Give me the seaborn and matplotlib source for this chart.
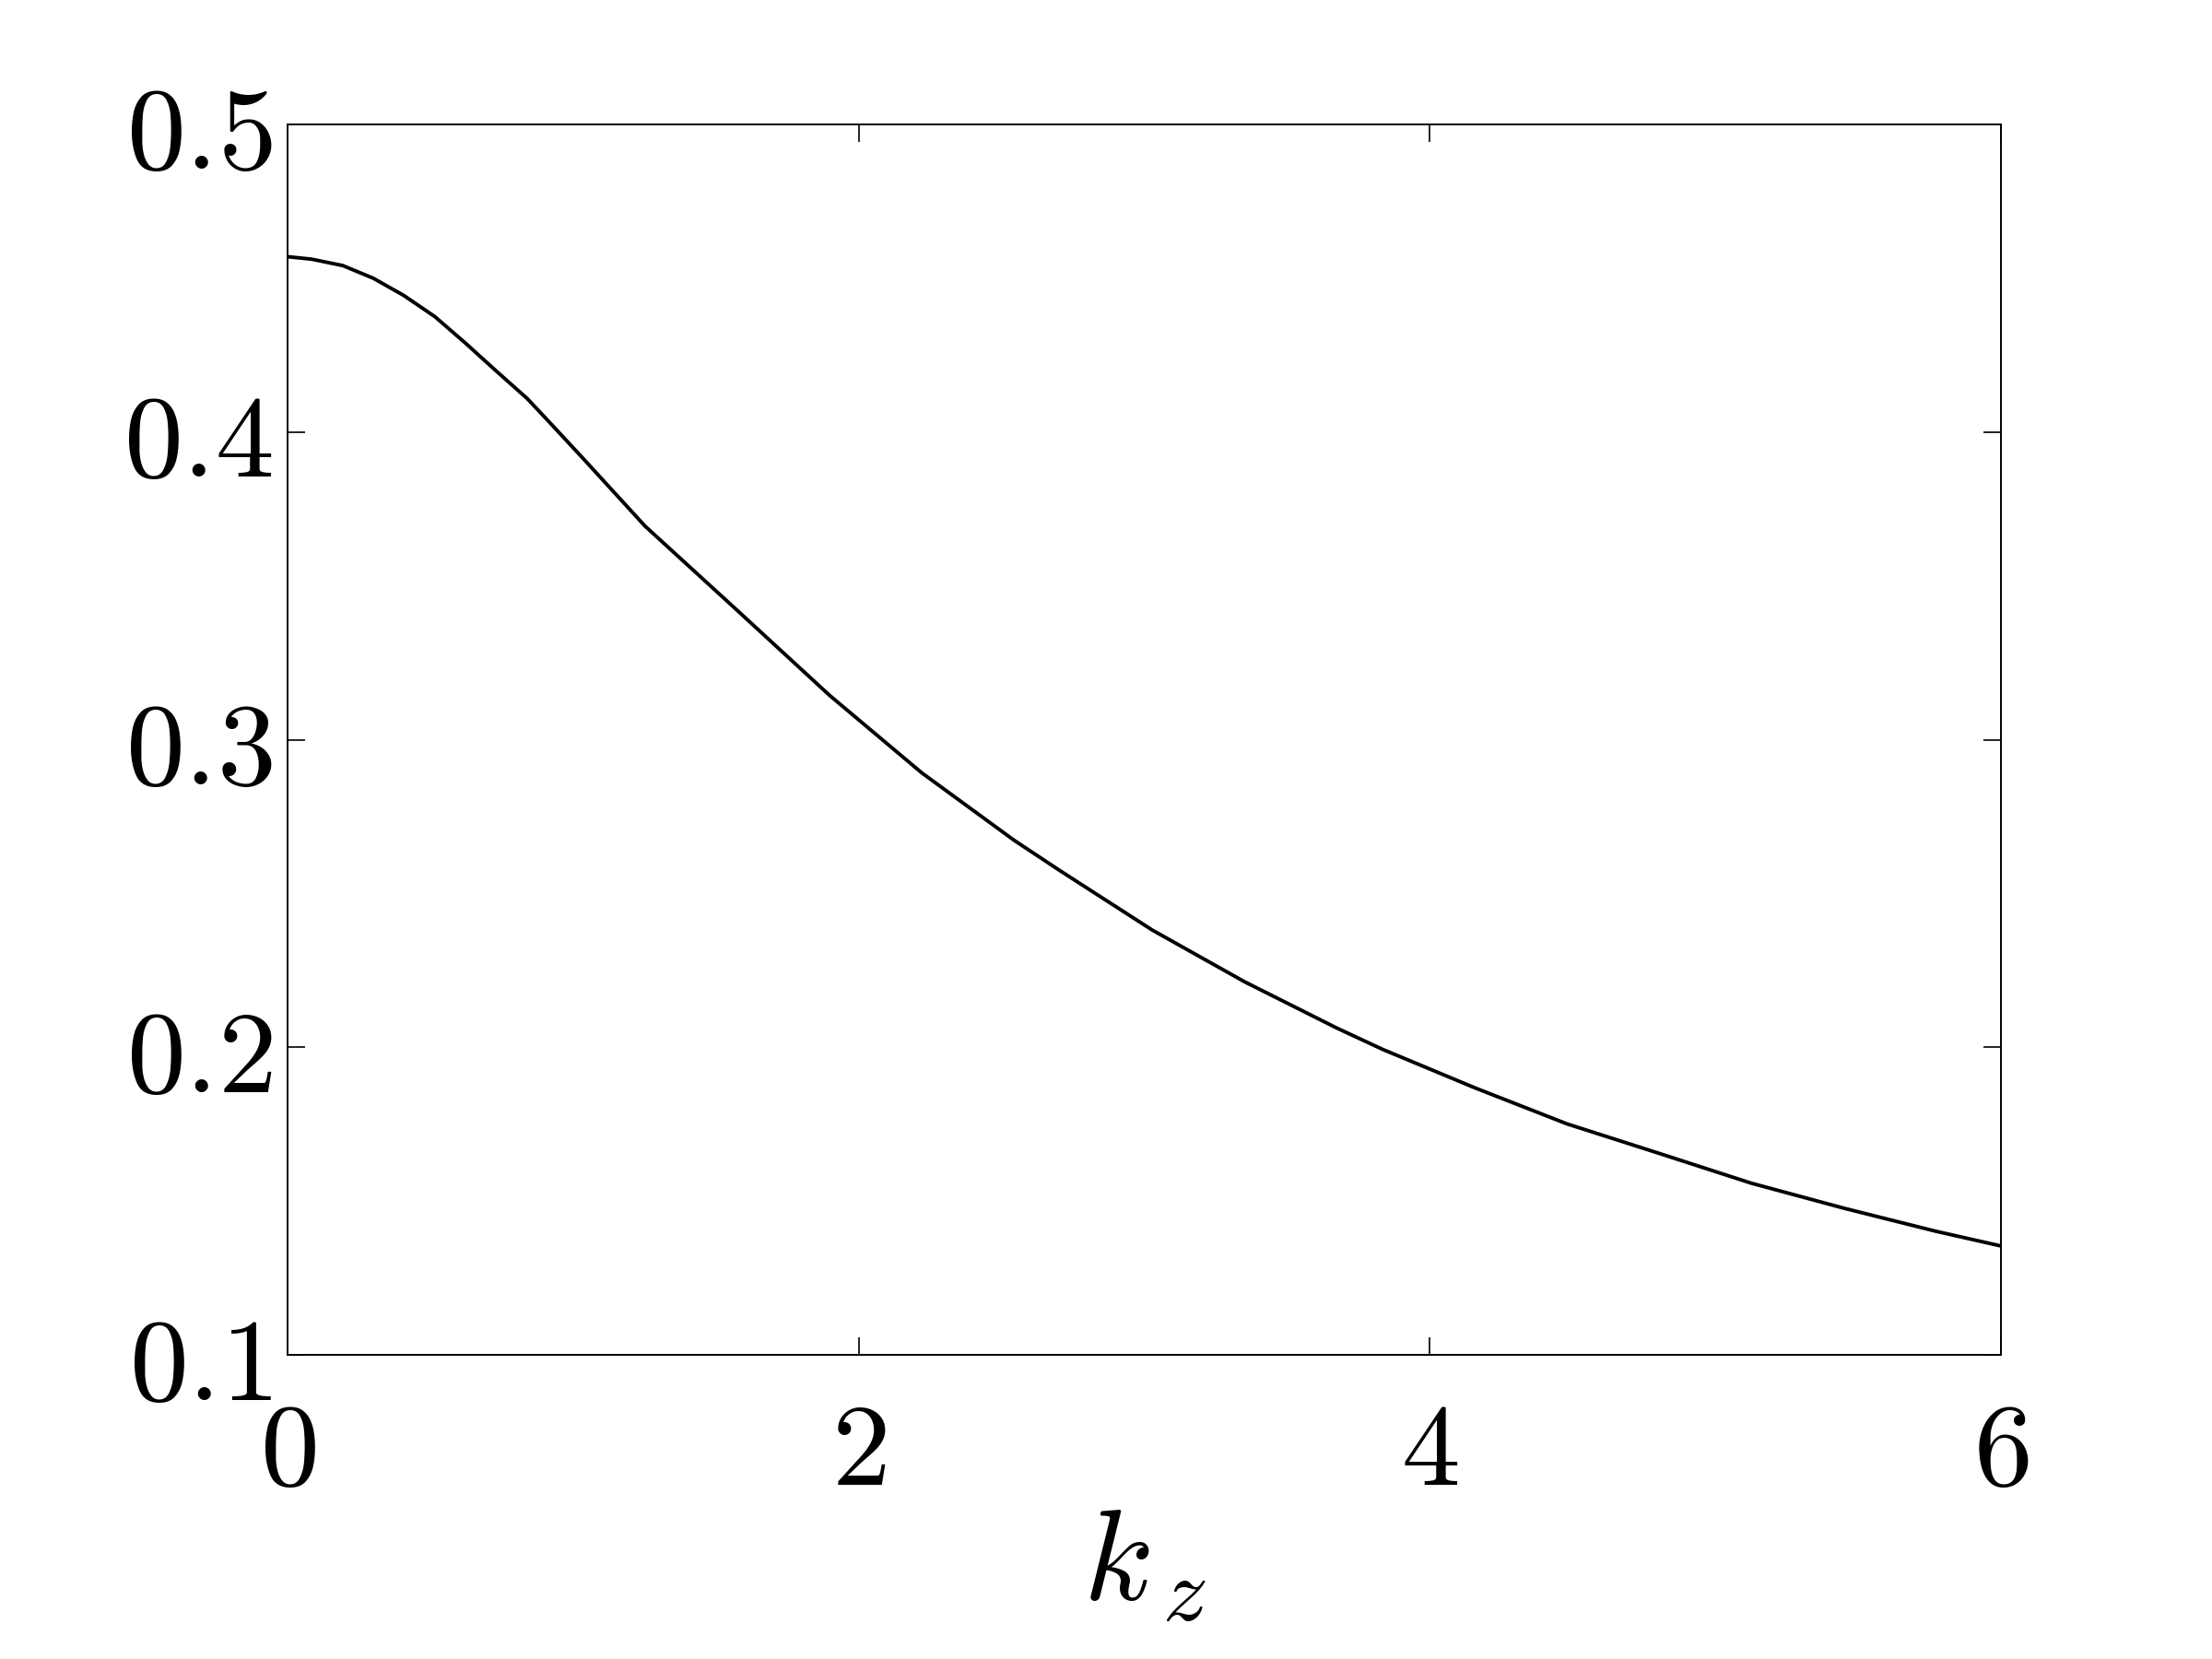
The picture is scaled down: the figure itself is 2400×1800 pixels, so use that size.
import numpy as np
import pandas as pd
import matplotlib
matplotlib.use("Agg")
import matplotlib.pyplot as plt
import seaborn as sns

# Data
kz = [0.0, 0.084, 0.194, 0.30, 0.407, 0.516, 0.623, 0.73, 0.839, 0.913, 1.037,
      1.252, 1.575, 1.898, 2.221, 2.544, 2.705, 3.028, 3.351, 3.512, 3.673, 3.835,
      4.158, 4.48, 4.803, 5.126, 5.449, 5.771, 6.0]
growth = [0.4570, 0.4562, 0.4541, 0.4500, 0.4444, 0.4375, 0.4289, 0.4199, 0.4109,
          0.4036, 0.3912, 0.3694, 0.3420, 0.3144, 0.2892, 0.2673, 0.2574, 0.2381,
          0.2213, 0.2138, 0.2063, 0.1993, 0.1868, 0.1751, 0.1655, 0.1558, 0.1477,
          0.1402, 0.1354]
xticks = [0, 2, 4, 6]
yticks = [0.1, 0.2, 0.3, 0.4, 0.5]

sns.set_theme(style="white")
plt.rcParams['mathtext.fontset'] = 'cm'
plt.rcParams['font.family'] = ['DejaVu Serif']
plt.rcParams['text.color'] = 'black'
plt.rcParams['axes.labelcolor'] = 'black'
plt.rcParams['xtick.color'] = 'black'
plt.rcParams['ytick.color'] = 'black'

df = pd.DataFrame({"kz": kz, "g": growth})

fig = plt.figure(figsize=(12, 9), dpi=200)
ax = fig.add_axes([312 / 2400, 1 - 1470 / 1800, (2171 - 312) / 2400, (1470 - 135) / 1800])
sns.lineplot(data=df, x="kz", y="g", ax=ax, color="black", linewidth=1.4)

ax.set_xlim(0, 6)
ax.set_ylim(0.1, 0.5)
ax.set_xticks(xticks)
ax.set_yticks(yticks)
ax.set_xticklabels([f"${t}$" for t in xticks], fontsize=46)
ax.set_yticklabels([f"${t:.1f}$" for t in yticks], fontsize=46)
ax.tick_params(axis="both", direction="in", length=7, width=0.6,
               top=True, right=True, bottom=True, left=True)
ax.tick_params(axis="x", pad=16)
ax.tick_params(axis="y", pad=6)
for s in ax.spines.values():
    s.set_visible(True)
    s.set_color("black")
    s.set_linewidth(0.7)
ax.set_xlabel(r"$k_{\,z}$", fontsize=50, labelpad=-3)
ax.set_ylabel("")
ax.grid(False)

fig.savefig("out.png", dpi=200, facecolor="white")
